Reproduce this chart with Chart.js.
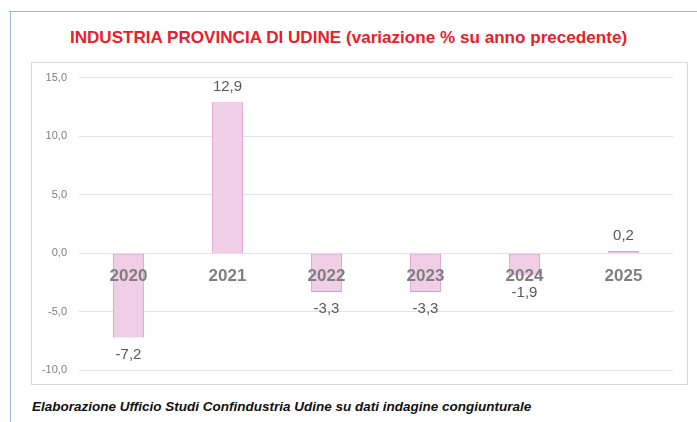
<!DOCTYPE html>
<html>
<head>
<meta charset="utf-8">
<script src="https://cdn.jsdelivr.net/npm/chart.js@4"></script>
<style>
  html, body { margin: 0; padding: 0; background: #ffffff; }
  body { width: 697px; height: 422px; position: relative; overflow: hidden; font-family: "Liberation Sans", Arial, sans-serif; }
  #frameTop { position: absolute; left: 9px; top: 11px; width: 688px; height: 1px; background: #9fb3d6; }
  #frameLeft { position: absolute; left: 10px; top: 11px; width: 1px; height: 411px; background: #9fb3d6; }
  #title { position: absolute; left: 0; top: 28px; width: 697px; text-align: center; color: #e8202a; font-weight: bold; font-size: 17.1px; line-height: 20px; }
  #box { position: absolute; left: 31px; top: 62px; width: 655px; height: 321px; border: 1px solid #d9d9d9; }
  #wrap { position: absolute; left: 0; top: -4px; width: 655px; height: 330px; }
  #footer { position: absolute; left: 32px; top: 399px; font-weight: bold; font-style: italic; font-size: 13.5px; color: #111; line-height: 16px; }
</style>
</head>
<body>
<div id="frameTop"></div>
<div id="frameLeft"></div>
<div id="title">INDUSTRIA PROVINCIA DI UDINE (variazione % su anno precedente)</div>
<div id="box"><div id="wrap"><canvas id="c"></canvas></div></div>
<div id="footer">Elaborazione Ufficio Studi Confindustria Udine su dati indagine congiunturale</div>
<script>
const categories = ["2020", "2021", "2022", "2023", "2024", "2025"];
const values = [-7.2, 12.9, -3.3, -3.3, -1.9, 0.2];
const yTicks = [-10, -5, 0, 5, 10, 15];

const fmt = v => v.toFixed(1).replace('.', ',');

const valueLabels = {
  id: 'valueLabels',
  afterDatasetsDraw(chart) {
    const ctx = chart.ctx;
    const meta = chart.getDatasetMeta(0);
    ctx.save();
    ctx.font = '15px "Liberation Sans", Arial, sans-serif';
    ctx.fillStyle = '#595959';
    ctx.textAlign = 'center';
    ctx.textBaseline = 'middle';
    meta.data.forEach((el, i) => {
      const v = values[i];
      const y = v >= 0 ? el.y - 15 : el.y + 17;
      ctx.fillText(fmt(v), el.x, y);
    });
    ctx.restore();
  }
};

new Chart(document.getElementById('c'), {
  type: 'bar',
  data: {
    labels: categories,
    datasets: [{
      data: values,
      backgroundColor: '#efcee6',
      borderColor: '#dc9fcf',
      borderWidth: 1,
      borderSkipped: false,
      categoryPercentage: 1.0,
      barPercentage: 0.315
    }]
  },
  options: {
    responsive: true,
    maintainAspectRatio: false,
    animation: false,
    layout: { padding: { top: 10, right: 14, bottom: 8, left: 0 } },
    plugins: { legend: { display: false }, tooltip: { enabled: false }, title: { display: false } },
    scales: {
      y: {
        min: -10, max: 15,
        afterBuildTicks(scale) { scale.ticks = yTicks.map(v => ({ value: v })); },
        afterFit(scale) { scale.width = 47; },
        grid: { color: '#e3e3e3', drawTicks: false, lineWidth: 1 },
        border: { display: false },
        ticks: {
          padding: 12,
          color: '#7f7f7f',
          font: { family: '"Liberation Sans", Arial, sans-serif', size: 11 },
          callback: v => fmt(v)
        }
      },
      x: {
        position: { y: 0 },
        grid: { display: false, drawTicks: false },
        border: { display: false },
        ticks: {
          z: 1,
          padding: 13,
          color: '#7f7f7f',
          font: { family: '"Liberation Sans", Arial, sans-serif', size: 17, weight: 'bold' }
        }
      }
    }
  },
  plugins: [valueLabels]
});
</script>
</body>
</html>
